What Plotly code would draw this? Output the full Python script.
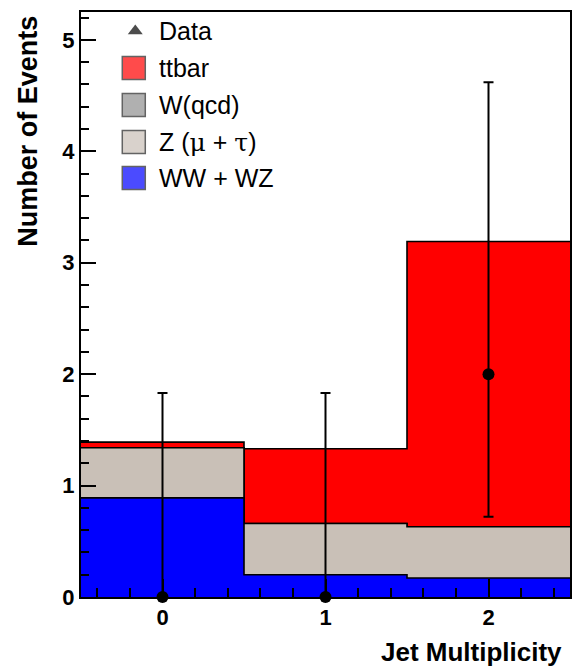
import numpy as np
import plotly.graph_objects as go

# Jet multiplicity bins and their edges
jet_bins = [0, 1, 2]
bin_edges = [-0.5, 0.5, 1.5, 2.5]

# Expected events per bin for each background process
ww_wz = [0.89, 0.20, 0.17]
z_mu_tau = [0.45, 0.46, 0.46]
w_qcd = [0.0, 0.0, 0.0]
ttbar = [0.05, 0.67, 2.56]

# Observed events and their asymmetric (Poisson) uncertainties
data_counts = [0, 0, 2]
data_err_up = [1.83, 1.83, 2.62]
data_err_down = [0.0, 0.0, 1.28]

# Stack order from the bottom up, with fill colours
greek = "<span style='font-family:DejaVu Serif'>{}</span>"
stack = [
    ("WW + WZ", ww_wz, "#0000ff"),
    ("Z (" + greek.format("μ") + " + " + greek.format("τ") + ")", z_mu_tau, "#c9c0b7"),
    ("W(qcd)", w_qcd, "#8f8f8f"),
    ("ttbar", ttbar, "#ff0000"),
]

W, H = 575, 668
ML, MR, MT, MB = 81, 3, 12, 71
PW, PH = W - ML - MR, H - MT - MB


def px(x):
    return (x - ML) / PW


def py(y):
    return 1 - (y - MT) / PH


fig = go.Figure()

# Cumulative step outlines; tallest drawn first so lower layers sit on top
cumulative = np.cumsum([s[1] for s in stack], axis=0)
for (name, _, color), cum in reversed(list(zip(stack, cumulative))):
    yvals = list(cum) + [cum[-1]]
    fig.add_trace(go.Scatter(
        x=bin_edges, y=yvals, mode="lines", line=dict(shape="hv", color="black", width=1.6),
        fill="tozeroy", fillcolor=color, showlegend=False, name=name,
    ))

fig.add_trace(go.Scatter(
    x=jet_bins, y=data_counts, mode="markers", name="Data",
    marker=dict(color="black", size=12),
    error_y=dict(type="data", array=data_err_up, arrayminus=data_err_down,
                 color="black", thickness=2, width=5),
    cliponaxis=False, showlegend=False,
))

# Legend key: drawn on an invisible overlay axis spanning the plot area (0..1 both ways)
tx = 157
rows_y = [31, 68, 105, 142, 178]
key_names = ["Data"] + [s[0] for s in reversed(stack)]
key_symbols = ["triangle-up"] + ["square"] * len(stack)
key_colors = ["black"] + [s[2] for s in reversed(stack)]
key_sizes = [13] + [23] * len(stack)
key_lines = [0] + [1.5] * len(stack)
fig.add_trace(go.Scatter(
    x=[px(135.5)] + [px(134)] * len(stack), y=[py(yc) for yc in rows_y],
    xaxis="x2", yaxis="y2", mode="markers",
    marker=dict(symbol=key_symbols, color=key_colors, size=key_sizes,
                line=dict(color="#222222", width=key_lines)),
    cliponaxis=False, showlegend=False, hoverinfo="skip",
))

tick_font = dict(family="Liberation Sans", size=22, color="black", weight="bold")
fig.update_xaxes(range=[-0.5, 2.5], tickvals=jet_bins,
                 ticks="inside", ticklen=18, tickwidth=2, tickcolor="black",
                 showline=True, linewidth=2, linecolor="black", mirror=True, layer="above traces",
                 showgrid=False, zeroline=False, tickfont=tick_font,
                 minor=dict(dtick=0.2, tick0=0, ticks="inside", ticklen=9, tickwidth=2, tickcolor="black"))
fig.update_yaxes(range=[0, 5.25], dtick=1, tick0=0,
                 ticks="inside", ticklen=15, tickwidth=2, tickcolor="black",
                 showline=True, linewidth=2, linecolor="black", mirror=True, layer="above traces",
                 showgrid=False, zeroline=False, tickfont=tick_font,
                 minor=dict(dtick=0.2, tick0=0, ticks="inside", ticklen=8, tickwidth=2, tickcolor="black"))

annotations = []
legend_font = dict(family="Liberation Sans", size=25, color="black")
for name, yc in zip(key_names, rows_y):
    annotations.append(dict(text=name, x=px(tx), y=py(yc), xref="paper", yref="paper",
                            xanchor="left", yanchor="middle", showarrow=False, font=legend_font))

# Axis titles, aligned to the axis ends
annotations.append(dict(text="<b>Jet Multiplicity</b>", x=px(566), y=py(652), xref="paper", yref="paper",
                        xanchor="right", yanchor="middle", showarrow=False,
                        font=dict(family="Liberation Sans", size=26, color="black")))
annotations.append(dict(text="<b>Number of Events</b>", x=px(27), y=py(14), xref="paper", yref="paper",
                        xanchor="center", yanchor="top", textangle=-90, showarrow=False,
                        font=dict(family="Liberation Sans", size=27, color="black")))

fig.update_layout(
    width=W, height=H, margin=dict(l=ML, r=MR, t=MT, b=MB),
    paper_bgcolor="white", plot_bgcolor="white",
    showlegend=False, annotations=annotations,
    xaxis2=dict(overlaying="x", range=[0, 1], visible=False),
    yaxis2=dict(overlaying="y", range=[0, 1], visible=False),
)

fig.write_html("out.html")
